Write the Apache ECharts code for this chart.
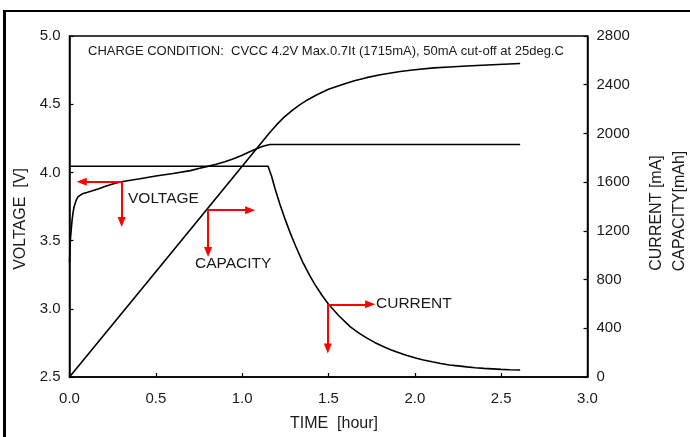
<!DOCTYPE html>
<html><head><meta charset="utf-8">
<script src="https://cdn.jsdelivr.net/npm/echarts@6/dist/echarts.min.js"></script>
<style>html,body{margin:0;padding:0;background:#fff}#c{width:690px;height:437px}</style>
</head><body><div id="c"></div>
<script>
// ---- data (time in hours) ----
const voltage = [[0,3.34],[0.003,3.44],[0.006,3.52],[0.01,3.58],[0.015,3.65],[0.02,3.70],[0.026,3.745],[0.032,3.77],[0.04,3.80],[0.05,3.822],[0.06,3.835],[0.075,3.843],[0.1,3.852],[0.133,3.865],[0.17,3.88],[0.2,3.895],[0.25,3.915],[0.3,3.932],[0.4,3.952],[0.5,3.974],[0.6,3.992],[0.7,4.013],[0.754,4.03],[0.8,4.044],[0.85,4.06],[0.9,4.078],[0.95,4.1],[1.0,4.126],[1.04,4.15],[1.08,4.172],[1.12,4.192],[1.16,4.205],[1.3,4.205],[1.6,4.205],[2.0,4.205],[2.3,4.205],[2.61,4.205]];
const current = [[0,1730],[1.15,1730],[1.16,1690],[1.17,1650],[1.19,1548],[1.22,1413],[1.25,1290],[1.28,1177],[1.31,1074],[1.35,945],[1.39,836],[1.42,763],[1.46,675],[1.5,597],[1.56,503],[1.625,414],[1.67,367],[1.72,321],[1.77,282],[1.82,248],[1.86,224],[1.9,203],[1.95,179],[2.01,154],[2.05,140],[2.1,125],[2.15,111],[2.2,99],[2.25,91],[2.3,83],[2.35,76],[2.4,71],[2.45,67],[2.5,63],[2.55,60],[2.61,57]];
const capacity = [[0,0],[0.5,865],[1.0,1730],[1.16,2008],[1.2,2072],[1.24,2130],[1.29,2190],[1.335,2236],[1.38,2277],[1.43,2316],[1.5,2362],[1.59,2406],[1.65,2432],[1.72,2458],[1.8,2482],[1.915,2509],[2.0,2523],[2.11,2538],[2.2,2546],[2.3,2554],[2.45,2564],[2.61,2574]];
const voltageTicks = [2.5,3.0,3.5,4.0,4.5,5.0];
const mATicks = [0,400,800,1200,1600,2000,2400,2800];
const timeTicks = [0,0.5,1.0,1.5,2.0,2.5,3.0];
// annotation arrows (data coordinates): corner, horizontal end, vertical end
const voltageArrow = {corner:[0.302,3.931], hEnd:0.071, vEnd:3.637};
const capacityArrow = {corner:[0.8025,1370], hEnd:1.046, vEnd:1027};
const currentArrow = {corner:[1.496,597], hEnd:1.741, vEnd:233};

const FONT = 'Liberation Sans, Arial, sans-serif';
const TXT = '#1a1a1a';

function arrows(a){
  return {
    silent:true, symbol:['none','triangle'], symbolSize:[8,10],
    lineStyle:{color:'#ff0000', width:2, type:'solid'},
    itemStyle:{color:'#ff0000'},
    label:{show:false}, emphasis:{disabled:true}, animation:false,
    data:[
      [{coord:a.corner},{coord:[a.hEnd,a.corner[1]]}],
      [{coord:a.corner},{coord:[a.corner[0],a.vEnd]}]
    ]
  };
}

const chart = echarts.init(document.getElementById('c'), null, {renderer:'canvas'});
const axisCommon = {
  axisLine:{show:true, lineStyle:{color:'#000', width:1.5}},
  axisTick:{show:true, inside:true, length:4, lineStyle:{color:'#000', width:1.2}},
  splitLine:{show:false},
};
chart.setOption({
  animation:false,
  backgroundColor:'#fff',
  grid:{left:69.5, right:102.5, top:36, bottom:60, show:true, borderColor:'#000', borderWidth:1.5, backgroundColor:'transparent'},
  xAxis:Object.assign({type:'value', min:timeTicks[0], max:timeTicks[timeTicks.length-1], interval:0.5,
    axisLabel:{color:TXT, fontSize:15, fontFamily:FONT, margin:14, formatter:v=>v.toFixed(1)}}, axisCommon),
  yAxis:[
    Object.assign({type:'value', position:'left', min:voltageTicks[0], max:voltageTicks[voltageTicks.length-1], interval:0.5,
      axisLabel:{color:TXT, fontSize:15, fontFamily:FONT, margin:9, formatter:v=>v.toFixed(1)}}, axisCommon),
    Object.assign({type:'value', position:'right', min:mATicks[0], max:mATicks[mATicks.length-1], interval:400,
      axisLabel:{color:TXT, fontSize:15, fontFamily:FONT, margin:9, formatter:v=>String(v)}}, axisCommon)
  ],
  series:[
    {name:'VOLTAGE', type:'line', yAxisIndex:0, data:voltage, showSymbol:false, smooth:false,
     lineStyle:{color:'#000', width:1.6}, markLine:arrows(voltageArrow)},
    {name:'CURRENT', type:'line', yAxisIndex:1, data:current, showSymbol:false, smooth:false,
     lineStyle:{color:'#000', width:1.6}, markLine:arrows(currentArrow)},
    {name:'CAPACITY', type:'line', yAxisIndex:1, data:capacity, showSymbol:false, smooth:false,
     lineStyle:{color:'#000', width:1.6}, markLine:arrows(capacityArrow)}
  ],
  graphic:[
    {type:'line', shape:{x1:4.5, y1:10, x2:4.5, y2:437}, style:{stroke:'#000', lineWidth:3}},
    {type:'line', shape:{x1:3, y1:11, x2:690, y2:11}, style:{stroke:'#000', lineWidth:2}},
    {type:'text', left:88, top:45, style:{text:'CHARGE CONDITION:  CVCC 4.2V Max.0.7It (1715mA), 50mA cut-off at 25deg.C', fontSize:13, fontFamily:FONT, fill:TXT}},
    {type:'text', x:128, y:198.5, style:{text:'VOLTAGE', fontSize:15.5, fontFamily:FONT, fill:TXT, textVerticalAlign:'middle'}},
    {type:'text', x:195, y:263.5, style:{text:'CAPACITY', fontSize:15.5, fontFamily:FONT, fill:TXT, textVerticalAlign:'middle'}},
    {type:'text', x:376, y:304, style:{text:'CURRENT', fontSize:15.5, fontFamily:FONT, fill:TXT, textVerticalAlign:'middle'}},
    {type:'text', x:334, y:424, style:{text:'TIME  [hour]', fontSize:16, fontFamily:FONT, fill:TXT, textAlign:'center', textVerticalAlign:'middle'}},
    {type:'text', x:21, y:219, rotation:Math.PI/2, style:{text:'VOLTAGE  [V]', fontSize:16, fontFamily:FONT, fill:TXT, textAlign:'center', textVerticalAlign:'middle'}},
    {type:'text', x:657, y:213, rotation:Math.PI/2, style:{text:'CURRENT [mA]', fontSize:16, fontFamily:FONT, fill:TXT, textAlign:'center', textVerticalAlign:'middle'}},
    {type:'text', x:680, y:211, rotation:Math.PI/2, style:{text:'CAPACITY[mAh]', fontSize:16, fontFamily:FONT, fill:TXT, textAlign:'center', textVerticalAlign:'middle'}}
  ]
});
</script></body></html>
